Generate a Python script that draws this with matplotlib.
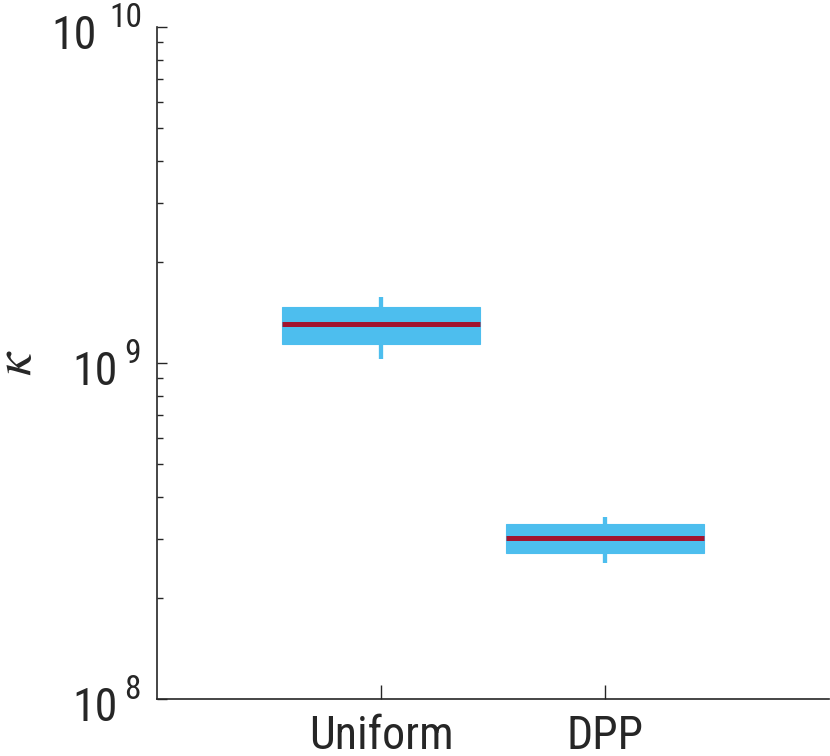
import matplotlib
matplotlib.use("Agg")
import matplotlib.pyplot as plt
import matplotlib.transforms as mtransforms
from matplotlib.ticker import LogLocator, NullFormatter

categories = ["Uniform", "DPP"]
q1 = [1.137e9, 2.725e8]
med = [1.304e9, 3.02e8]
q3 = [1.471e9, 3.317e8]
whislo = [1.028e9, 2.545e8]
whishi = [1.575e9, 3.488e8]
ytick_vals = [1e8, 1e9, 1e10]
ytick_exps = ["8", "9", "10"]

plt.rcParams['font.family'] = ['Roboto Condensed', 'Archivo Narrow', 'Liberation Sans', 'DejaVu Sans']

W, H = 830, 756
fig = plt.figure(figsize=(W / 100, H / 100), dpi=100)
ax = fig.add_axes([157 / W, (H - 699) / H, 672 / W, 672 / H])

stats = []
for i, c in enumerate(categories):
    stats.append(dict(label=c, q1=q1[i], med=med[i], q3=q3[i],
                      whislo=whislo[i], whishi=whishi[i], fliers=[]))

blue = "#4DBEEE"
red = "#A2142F"
ax.bxp(stats, positions=[1, 2], widths=0.88, patch_artist=True, showcaps=False,
       showfliers=False,
       boxprops=dict(facecolor=blue, edgecolor=blue, linewidth=0.8),
       whiskerprops=dict(color=blue, linewidth=3.1, solid_capstyle='butt'),
       medianprops=dict(color=red, linewidth=3.6, solid_capstyle='butt'))

ax.set_yscale('log')
ax.set_ylim(1e8, 1e10)
ax.set_xlim(0, 3)
ax.set_xticks([1, 2])
ax.set_xticklabels(categories, fontsize=33, color="#262626")

for s in ['top', 'right']:
    ax.spines[s].set_visible(False)
for s in ['left', 'bottom']:
    ax.spines[s].set_color('#262626')
    ax.spines[s].set_linewidth(1.2)

ax.yaxis.set_major_locator(LogLocator(base=10, numticks=10))
ax.yaxis.set_minor_locator(LogLocator(base=10, subs=range(2, 10), numticks=20))
ax.yaxis.set_major_formatter(NullFormatter())
ax.yaxis.set_minor_formatter(NullFormatter())
ax.tick_params(axis='y', which='major', direction='in', length=7.5, width=1.0, color='#262626')
ax.tick_params(axis='y', which='minor', direction='in', length=4.5, width=1.0, color='#262626')
ax.tick_params(axis='x', which='major', direction='in', length=10, width=1.0, color='#262626',
               pad=11)

blend = mtransforms.blended_transform_factory(fig.transFigure, ax.transData)
base_tr = mtransforms.offset_copy(blend, fig=fig, x=0, y=-22, units='dots')
for v, e in zip(ytick_vals, ytick_exps):
    if len(e) > 1:
        bx, ex = 97, 109
    else:
        bx, ex = 118, 124
    fig.text(bx / W, v, "10", transform=base_tr, ha='right', va='baseline',
             fontsize=33, color='#262626')
    fig.text(ex / W, v, e, transform=blend, ha='left', va='baseline',
             fontsize=24, color='#262626')

fig.text(17 / W, 0.5, r'$\kappa$',
         transform=mtransforms.blended_transform_factory(fig.transFigure, ax.transAxes),
         rotation=90, ha='center', va='center', fontsize=38, color='#262626',
         math_fontfamily='stix')

fig.savefig("out.png", dpi=100)
